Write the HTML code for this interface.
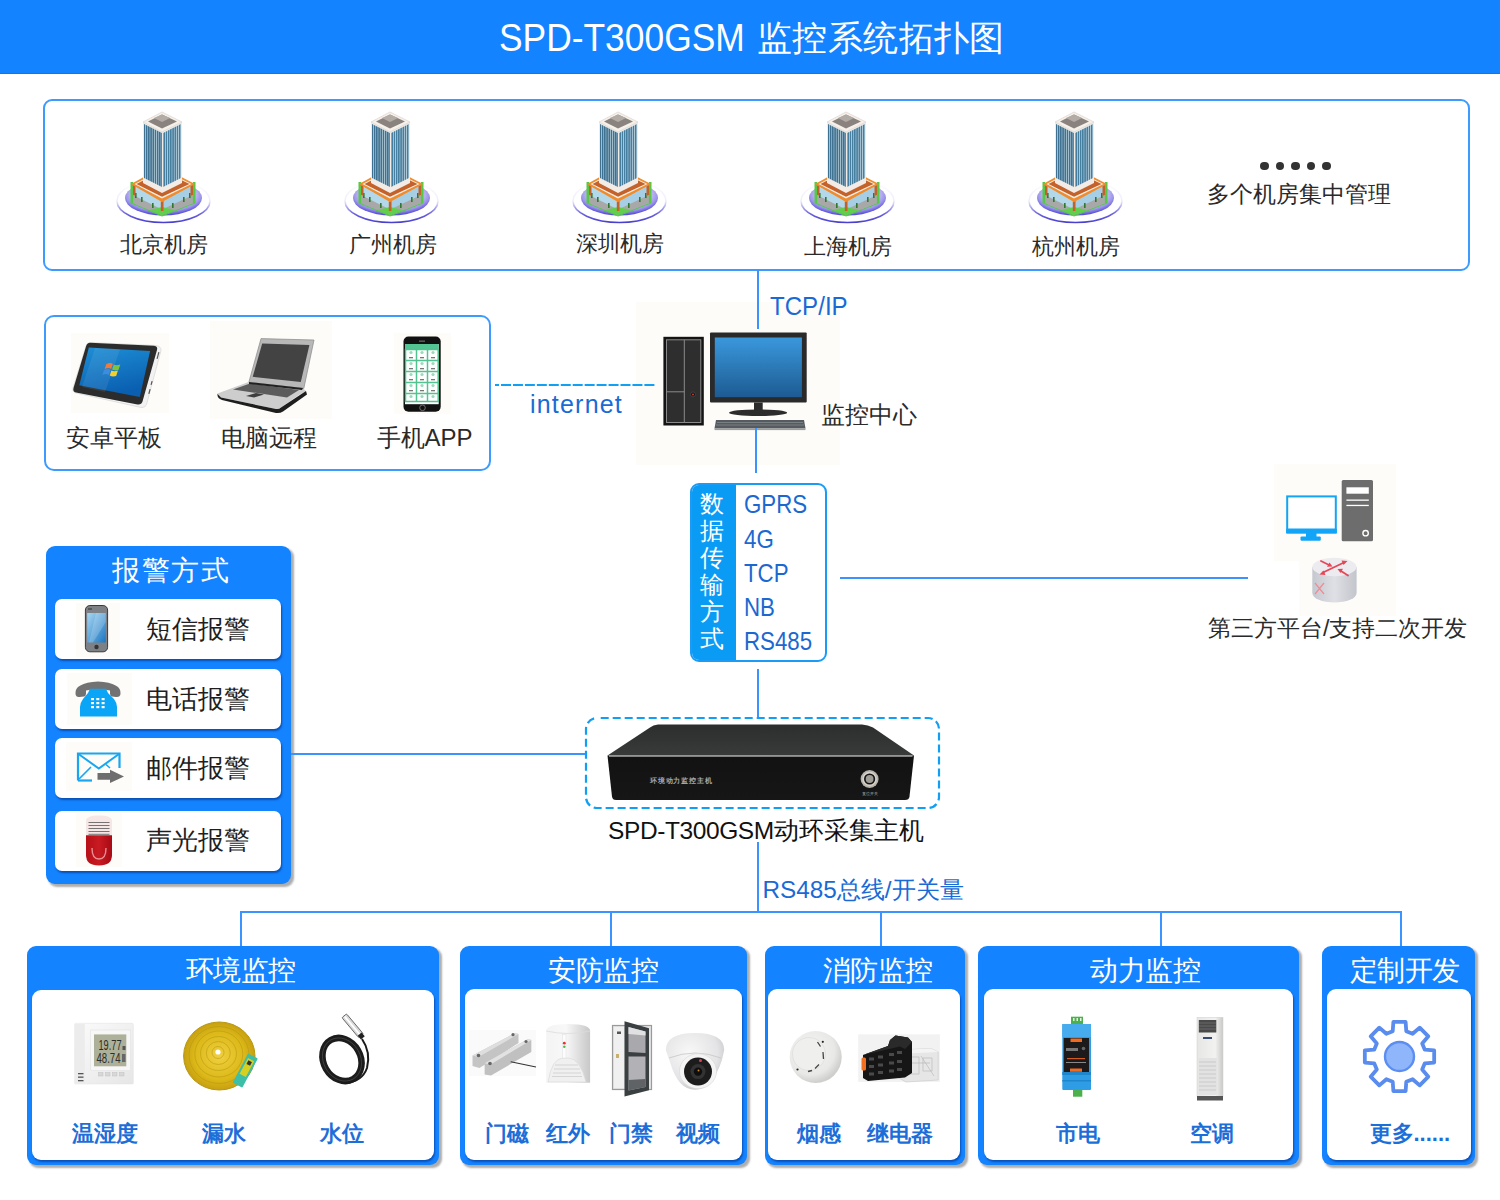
<!DOCTYPE html>
<html><head><meta charset="utf-8">
<style>
*{margin:0;padding:0;box-sizing:border-box}
html,body{width:1500px;height:1200px;overflow:hidden;background:#fff}
body{position:relative;font-family:"Liberation Sans",sans-serif;color:#2a2a2a}
.a{position:absolute}
.t{position:absolute;white-space:nowrap;line-height:1;z-index:3}
.hdr{left:0;top:0;width:1500px;height:74px;background:#1383ff;border-bottom:1px solid #0a78f5}
.box{position:absolute;border:2px solid #3d9bff;border-radius:9px;background:#fff}
.ln{position:absolute;background:#3a93ff;z-index:3}
.pnl{position:absolute;background:#1383ff;border-radius:9px;box-shadow:2.5px 2.5px 2px rgba(0,0,0,.32)}
.inr{position:absolute;background:#fff;border-radius:9px;box-shadow:1px 2px 2px rgba(0,40,130,.55)}
.ph{color:#fff;font-size:27.5px;letter-spacing:-.5px}
.lbl{color:#1c6ed8;font-size:22px;font-weight:bold}
.blue{color:#1a6ad6}
.item{position:absolute;left:9px;width:226px;height:60px;background:#fff;border-radius:7px;box-shadow:1px 2px 2px rgba(0,40,120,.55)}
.it{position:absolute;left:91px;font-size:26px;color:#1e1e1e;line-height:1}
.ibg{position:absolute;background:#fdfcf8}
</style></head><body>
<div class="a hdr"></div>
<div class="t" style="left:498.5px;top:17.7px;font-size:39px;color:#fff;transform:scaleX(.907);transform-origin:0 0">SPD-T300GSM</div>
<div class="t" style="left:757px;top:20.5px;font-size:35.4px;letter-spacing:.4px;color:#fff">监控系统拓扑图</div>

<svg width="0" height="0" style="position:absolute">
<defs>
<pattern id="stripL" width="2.2" height="10" patternUnits="userSpaceOnUse"><rect width="2.2" height="10" fill="#b3cbd8"/><rect x="0.7" width="1.5" height="10" fill="#3f7292"/></pattern>
<pattern id="stripR" width="2.2" height="10" patternUnits="userSpaceOnUse"><rect width="2.2" height="10" fill="#bcd3df"/><rect x="0.7" width="1.5" height="10" fill="#467e9f"/></pattern>
<radialGradient id="lil" cx="50%" cy="40%" r="58%"><stop offset="0" stop-color="#ffffff"/><stop offset=".6" stop-color="#dcdaf6"/><stop offset=".85" stop-color="#9c95ea"/><stop offset="1" stop-color="#5a50d8"/></radialGradient>
<linearGradient id="rim" x1="0" y1="0" x2="0" y2="1"><stop offset="0" stop-color="#5a50d8" stop-opacity="0"/><stop offset=".5" stop-color="#5a50d8" stop-opacity="0.1"/><stop offset=".8" stop-color="#5a50d8" stop-opacity=".9"/><stop offset="1" stop-color="#4a40d0"/></linearGradient>
<symbol id="bld" viewBox="0 0 105 120">
  <ellipse cx="53.5" cy="96" rx="46.5" ry="21.5" fill="#fff" stroke="url(#rim)" stroke-width="1.6"/>
  <ellipse cx="53.5" cy="93" rx="38.5" ry="17.5" fill="url(#lil)"/>
  <polygon points="21,77 52,94 85,77 85,97.5 52,110.5 21,97.5" fill="#a8a8a8"/>
  <polygon points="23,80 52,96 52,104.5 23,90" fill="#b2d8ea"/>
  <polygon points="52,96 83,80 83,90 52,104.5" fill="#a6cfe6"/>
  <polygon points="39,105 52,110.5 65,105 52,102" fill="#60d04c"/>
  <polygon points="21,97.5 52,110.5 52,111.5 21,98.5" fill="#56c845"/>
  <polygon points="85,97.5 52,110.5 52,111.5 85,98.5" fill="#56c845"/>
  <rect x="20.5" y="77" width="2.6" height="21" fill="#56c845"/>
  <rect x="82.9" y="77" width="2.6" height="21" fill="#56c845"/>
  <g fill="#2f7a2a"><rect x="25" y="88" width="1.6" height="5"/><rect x="31" y="92" width="1.6" height="5"/><rect x="42" y="98" width="1.6" height="5"/><rect x="62" y="98" width="1.6" height="5"/><rect x="73" y="92" width="1.6" height="5"/><rect x="79" y="88" width="1.6" height="5"/></g>
  <polygon points="50.8,96.5 53.5,96 53.5,106 50.8,106" fill="#c3612a"/>
  <polygon points="23,80 25.5,81 25.5,91 23,90" fill="#c3612a"/>
  <polygon points="80.5,81 83,80 83,90 80.5,91" fill="#c3612a"/>
  <polygon points="21,79 52,62 85,79 52,97" fill="#f08c2c"/>
  <polygon points="24.5,79 52,64.5 81.5,79 52,93.5" fill="#f4efe8"/>
  <polygon points="26.5,79 52,65.8 79.5,79 52,91.8" fill="#c4622c"/>
  <polygon points="33,78 52,88 72,78 72,17 52,27 33,17" fill="#f3ece6"/>
  <polygon points="34,19 52,28 52,82 34,73" fill="url(#stripL)"/>
  <polygon points="53,28 71,19 71,73 53,82" fill="url(#stripR)"/>
  <polygon points="33,17 52,7 72,17 52,27" fill="#f5f0ea" stroke="#d8cfc8" stroke-width=".6"/>
  <polygon points="38,16.5 52,9.5 67,16.5 52,23.5" fill="#8a827e"/>
  <polygon points="44,13 52,9.5 60,13 52,17" fill="#b3aba6"/>
</symbol>
</defs></svg>

<!-- top box -->
<div class="box" style="left:43px;top:99px;width:1427px;height:172px"></div>
<svg class="a" style="left:110px;top:105px" width="105" height="120"><use href="#bld"/></svg>
<svg class="a" style="left:338px;top:105px" width="105" height="120"><use href="#bld"/></svg>
<svg class="a" style="left:566px;top:105px" width="105" height="120"><use href="#bld"/></svg>
<svg class="a" style="left:794px;top:105px" width="105" height="120"><use href="#bld"/></svg>
<svg class="a" style="left:1022px;top:105px" width="105" height="120"><use href="#bld"/></svg>
<div class="t" style="left:120px;top:233.5px;font-size:22px">北京机房</div>
<div class="t" style="left:348.5px;top:233.5px;font-size:22px">广州机房</div>
<div class="t" style="left:575.5px;top:233px;font-size:22px">深圳机房</div>
<div class="t" style="left:804px;top:236px;font-size:22px">上海机房</div>
<div class="t" style="left:1032px;top:236px;font-size:22px">杭州机房</div>
<div class="a" style="left:1260.4px;top:161.8px;width:8.6px;height:8.6px;border-radius:50%;background:#333"></div><div class="a" style="left:1275.7px;top:161.8px;width:8.6px;height:8.6px;border-radius:50%;background:#333"></div><div class="a" style="left:1291.4px;top:161.8px;width:8.6px;height:8.6px;border-radius:50%;background:#333"></div><div class="a" style="left:1306.9px;top:161.8px;width:8.6px;height:8.6px;border-radius:50%;background:#333"></div><div class="a" style="left:1322.3px;top:161.8px;width:8.6px;height:8.6px;border-radius:50%;background:#333"></div>
<div class="t" style="left:1206.5px;top:182.5px;font-size:23px">多个机房集中管理</div>

<div class="ln" style="left:757px;top:270px;width:2px;height:59px"></div>
<div class="t blue" style="left:770px;top:293.5px;font-size:25.5px;transform:scaleX(.945);transform-origin:0 0">TCP/IP</div>

<!-- devices box -->
<div class="box" style="left:44px;top:315px;width:447px;height:156px;border-radius:10px"></div>
<div class="t" style="left:66px;top:426px;font-size:24px">安卓平板</div>
<div class="t" style="left:221px;top:426px;font-size:24px">电脑远程</div>
<div class="t" style="left:376.5px;top:426px;font-size:24px">手机APP</div>

<svg class="a" style="left:490px;top:380px;z-index:3" width="170" height="10"><line x1="5" y1="5" x2="165" y2="5" stroke="#12a0f2" stroke-width="2.2" stroke-dasharray="10 1.95" stroke-dashoffset="5.95"/></svg>
<div class="t blue" style="left:530px;top:392px;font-size:25px;letter-spacing:1.2px">internet</div>

<div class="t" style="left:821px;top:403px;font-size:24px">监控中心</div>
<div class="ln" style="left:755px;top:428px;width:2px;height:45px"></div>


<!-- device icons -->
<div class="ibg" style="left:71px;top:333px;width:98px;height:80px"></div>
<svg class="a" style="left:65px;top:325px" width="110" height="95" viewBox="65 325 110 95">
  <defs><linearGradient id="tabscr" x1="0" y1="0" x2="0.3" y2="1"><stop offset="0" stop-color="#1e8fd6"/><stop offset="1" stop-color="#0a5fb0"/></linearGradient></defs>
  <path d="M91,342.5 L156,345.5 Q161.5,346.5 161,350.5 L146.5,404.5 Q145.5,408 141,407.5 L76,393 Q72,392 73,388 L86,346 Q87,342.5 91,342.5 Z" fill="#f2f2f2" stroke="#d0d0d0" stroke-width=".6"/><g fill="#555"><rect x="157.5" y="352" width="1.2" height="7" transform="rotate(15 158 355)"/><rect x="151" y="381" width="1.2" height="4" transform="rotate(15 151.5 383)"/><rect x="149" y="389" width="1.2" height="5" transform="rotate(15 149.5 391)"/></g>
  <path d="M90,342.8 L154,345.8 Q158,346.3 157,350 L142.5,401.5 Q141.5,405 137.5,404.5 L76,392.6 Q72.5,391.8 73.5,388 L86,346.5 Q87,342.8 90,342.8 Z" fill="#2c2c2c"/>
  <polygon points="88.8,347.6 150.1,351.1 139.8,397 79.3,385.2" fill="url(#tabscr)"/>
  <polygon points="95,348 120,349.5 105,392 82,387" fill="#fff" opacity=".08"/>
  <g transform="translate(112.5,370) skewX(-8)">
    <path d="M-7,-6 Q-3,-8 -0.5,-6 L-1.5,-1 Q-4,-3 -8,-1 Z" fill="#f07a3c"/>
    <path d="M0.5,-5.5 Q3,-4 7,-5.5 L6,0 Q3,1 -0.5,-0.5 Z" fill="#7cc43c"/>
    <path d="M-8.5,0 Q-5,-2 -2,0 L-3,5 Q-6,3 -9.5,5 Z" fill="#3c8ce0"/>
    <path d="M-1,0.5 Q2,2 5.5,0.5 L4.5,6 Q1,7 -2,5.5 Z" fill="#f4d02c"/>
  </g>
</svg>
<div class="ibg" style="left:210px;top:321px;width:122px;height:98px"></div>
<svg class="a" style="left:205px;top:320px" width="130" height="100" viewBox="205 320 130 100">
  <polygon points="261,338.6 314,340 303.8,388.5 248.8,382.4" fill="#b8b8b8" stroke="#888" stroke-width=".7"/>
  <polygon points="262.2,343.4 309.4,345.1 300.8,382 252.7,376.8" fill="#434343"/>
  <path d="M248.5,382 L303,388.5 L306,391 L299,395 L281,407.5 Q279,409.5 276,409 L221,397.5 Q216,396 217.5,393.5 Z" fill="#cdcdcd"/>
  <path d="M217.5,394 L221,397.5 L276,409 Q279,409.5 281,407.5 L306,391 L307,394.5 L283,411.5 Q280,413.5 276,413 L222,400 Q217,398.5 217.5,394 Z" fill="#1e1e1e"/>
  <polygon points="233,389.5 250,383.5 299,390 287,397.5" fill="#5c5c5c"/>
  <polygon points="246,396 256,393 264,394.5 254,397.5" fill="#3e3e3e"/>
  <polygon points="249,382 303,388 302,390 249,384" fill="#222"/>
</svg>
<div class="ibg" style="left:394px;top:333px;width:57px;height:81px"></div>
<svg class="a" style="left:390px;top:325px" width="65" height="95" viewBox="390 325 65 95">
  <rect x="403.5" y="336.5" width="37.2" height="75.2" rx="5" fill="#111"/>
  <rect x="405" y="344" width="33.7" height="60.2" fill="#fff"/>
  <rect x="405" y="344" width="33.7" height="5" fill="#52c592"/>
  <g fill="none" stroke="#52c290" stroke-width="1.5">
    <rect x="405.5" y="349.5" width="32.7" height="52"/>
    <line x1="416.5" y1="349.5" x2="416.5" y2="401"/><line x1="427.5" y1="349.5" x2="427.5" y2="401"/>
    <line x1="405.5" y1="360.5" x2="438" y2="360.5"/><line x1="405.5" y1="371.5" x2="438" y2="371.5"/>
    <line x1="405.5" y1="382.5" x2="438" y2="382.5"/><line x1="405.5" y1="393.5" x2="438" y2="393.5"/>
  </g>
  <g fill="#9adbb9">
    <circle cx="411" cy="352.5" r="1.6"/><circle cx="422" cy="352.5" r="1.6"/><circle cx="433" cy="352.5" r="1.6"/>
    <circle cx="411" cy="363.5" r="1.6"/><circle cx="422" cy="363.5" r="1.6"/><circle cx="433" cy="363.5" r="1.6"/>
    <circle cx="411" cy="374.5" r="1.6"/><circle cx="422" cy="374.5" r="1.6"/><circle cx="433" cy="374.5" r="1.6"/>
    <circle cx="411" cy="385.5" r="1.6"/><circle cx="422" cy="385.5" r="1.6"/><circle cx="433" cy="385.5" r="1.6"/>
    <circle cx="411" cy="396.5" r="1.6"/><circle cx="422" cy="396.5" r="1.6"/><circle cx="433" cy="396.5" r="1.6"/>
  </g>
  <g fill="#777">
    <rect x="409" y="357" width="4" height="1.3"/><rect x="420" y="357" width="4" height="1.3"/><rect x="431" y="357" width="4" height="1.3"/>
    <rect x="409" y="368" width="4" height="1.3"/><rect x="420" y="368" width="4" height="1.3"/><rect x="431" y="368" width="4" height="1.3"/>
    <rect x="409" y="379" width="4" height="1.3"/><rect x="420" y="379" width="4" height="1.3"/><rect x="431" y="379" width="4" height="1.3"/>
    <rect x="409" y="390" width="4" height="1.3"/><rect x="420" y="390" width="4" height="1.3"/><rect x="431" y="390" width="4" height="1.3"/>
  </g>
  <rect x="419" y="340.5" width="6" height="1.3" fill="#666"/>
  <circle cx="422.5" cy="407.8" r="2.8" fill="none" stroke="#888" stroke-width=".8"/>
</svg>

<!-- computer -->
<div class="ibg" style="left:636px;top:302px;width:204px;height:163px"></div>
<svg class="a" style="left:630px;top:295px" width="220" height="175" viewBox="630 295 220 175">
  <defs><linearGradient id="mscr" x1="0" y1="0" x2="0" y2="1"><stop offset="0" stop-color="#3a98dc"/><stop offset="1" stop-color="#1d5b92"/></linearGradient></defs>
  <rect x="663.4" y="336.8" width="40.4" height="88.7" fill="#141414"/>
  <rect x="666.5" y="339.8" width="34.3" height="82.7" fill="#2e2e2e" stroke="#8a8a8a" stroke-width="1"/>
  <line x1="684.3" y1="339.8" x2="684.3" y2="422.5" stroke="#8a8a8a" stroke-width="1"/>
  <line x1="666.5" y1="391.8" x2="684.3" y2="391.8" stroke="#8a8a8a" stroke-width="1"/>
  <circle cx="693" cy="394.4" r="2.4" fill="#111" stroke="#555" stroke-width=".6"/><circle cx="693" cy="394.4" r="1" fill="#c8402a"/>
  <rect x="710" y="332.4" width="96.7" height="70.1" rx="1" fill="#2a2a2a"/>
  <rect x="714.8" y="337.5" width="87.1" height="59.7" fill="url(#mscr)"/>
  <rect x="754" y="402.5" width="8.7" height="8" fill="#2a2a2a"/>
  <ellipse cx="758.1" cy="412.7" rx="29" ry="3.3" fill="#2c2c2c"/>
  <polygon points="716,420 804,420 805.5,428.5 714.5,428.5" fill="#555b5e"/>
  <g stroke="#8a9092" stroke-width=".7"><line x1="717" y1="422.5" x2="803" y2="422.5"/><line x1="716" y1="425" x2="804" y2="425"/></g>
  <rect x="714.5" y="428.5" width="91" height="1.6" fill="#9aa0a2"/>
</svg>

<!-- third party -->
<div class="ibg" style="left:1274px;top:464px;width:122px;height:97px"></div>
<div class="ibg" style="left:1299px;top:561px;width:97px;height:55px"></div>
<svg class="a" style="left:1270px;top:460px" width="130" height="160" viewBox="1270 460 130 160">
  <defs><linearGradient id="rtr" x1="0" y1="0" x2="1" y2="0"><stop offset="0" stop-color="#c6c8cf"/><stop offset=".5" stop-color="#dfe0e5"/><stop offset="1" stop-color="#c3c5cc"/></linearGradient></defs>
  <rect x="1287.2" y="496.4" width="48.6" height="36" fill="#fff" stroke="#12a4f6" stroke-width="2"/>
  <rect x="1286.2" y="528.5" width="50.6" height="5.1" rx="1" fill="#12a4f6"/>
  <rect x="1306" y="533" width="10.5" height="4.5" fill="#12a4f6"/>
  <rect x="1300.5" y="536.4" width="20.3" height="4.3" rx="1.2" fill="#12a4f6"/>
  <rect x="1341.7" y="479.9" width="31.3" height="61.4" rx="1.5" fill="#6d6d6d"/>
  <rect x="1346.4" y="487.3" width="22.4" height="6.4" fill="#fff"/>
  <rect x="1346.4" y="499.5" width="22.4" height="1.3" fill="#fff"/>
  <rect x="1346.4" y="504.8" width="22.4" height="1.3" fill="#fff"/>
  <circle cx="1365.6" cy="533.2" r="2.7" fill="none" stroke="#fff" stroke-width="1.4"/>
  <path d="M1312.3,567 L1312.3,593 A22.15,9.5 0 0 0 1356.6,593 L1356.6,567 Z" fill="url(#rtr)"/>
  <ellipse cx="1334.45" cy="567" rx="22.15" ry="9.3" fill="#ececf0"/>
  <g stroke="#e64656" stroke-width="1.8" fill="#e64656" stroke-linecap="round">
    <line x1="1321" y1="561" x2="1329" y2="565"/><polygon points="1332.5,566.5 1327,566.8 1329.5,562.5" stroke="none"/>
    <line x1="1323" y1="572.5" x2="1344" y2="562.5"/><polygon points="1347.5,561 1341.5,560.5 1343.5,565" stroke="none"/><polygon points="1319.5,574.5 1325.5,575 1323.5,570.5" stroke="none"/>
    <line x1="1341" y1="571" x2="1348" y2="575.5"/><polygon points="1337.5,569 1343,568.8 1340.5,573" stroke="none"/>
  </g>
  <g stroke="#ee8c96" stroke-width="1.2" fill="none">
    <path d="M1315,583 L1324,594 M1324,583 L1315,594"/>
  </g>
</svg>

<!-- alarm icons -->
<div class="ibg" style="left:76px;top:603px;width:44px;z-index:4;height:54px"></div>
<svg class="a" style="left:76px;top:603px;z-index:5" width="44" height="54" viewBox="76 603 44 54">
  <defs><linearGradient id="phs" x1="0" y1="0" x2="1" y2="1"><stop offset="0" stop-color="#a7d6f2"/><stop offset="1" stop-color="#1b77c2"/></linearGradient></defs>
  <rect x="85.4" y="605.5" width="22.2" height="46.3" rx="4.5" fill="#7d8084" stroke="#3a3a3a" stroke-width="1"/>
  <rect x="87.2" y="613" width="18.6" height="29.5" fill="url(#phs)"/>
  <polygon points="96,613 105.8,613 105.8,622 93,642.5 89,642.5" fill="#fff" opacity=".18"/>
  <circle cx="96.5" cy="647" r="2.2" fill="#333"/>
  <circle cx="89" cy="609" r=".8" fill="#222"/><circle cx="91" cy="609" r=".8" fill="#222"/>
</svg>
<div class="ibg" style="left:67px;top:673px;width:65px;z-index:4;height:52px"></div>
<svg class="a" style="left:67px;top:673px;z-index:5" width="65" height="52" viewBox="67 673 65 52">
  <path d="M75.5,694 Q74,683 98,681.5 Q122,683 120.5,694 Q120,697.5 116,697 L112,696.5 Q110,696 110,693.5 L110,690.5 Q98,687.5 86,690.5 L86,693.5 Q86,696 84,696.5 L79.5,697 Q76,697.5 75.5,694 Z" fill="#727272"/>
  <path d="M88,693 L90,688.8 L106,688.8 L108,693 L114,699 Q117,703 117,707 L117,716.5 L80,716.5 L80,707 Q80,703 83,699 Z" fill="#0aa5f6"/>
  <g fill="#fff"><rect x="91" y="698" width="3" height="2.2"/><rect x="96.3" y="698" width="3" height="2.2"/><rect x="101.6" y="698" width="3" height="2.2"/>
  <rect x="91" y="702" width="3" height="2.2"/><rect x="96.3" y="702" width="3" height="2.2"/><rect x="101.6" y="702" width="3" height="2.2"/>
  <rect x="91" y="706" width="3" height="2.2"/><rect x="96.3" y="706" width="3" height="2.2"/><rect x="101.6" y="706" width="3" height="2.2"/></g>
</svg>
<div class="ibg" style="left:66px;top:742px;width:66px;z-index:4;height:49px"></div>
<svg class="a" style="left:66px;top:742px;z-index:5" width="66" height="49" viewBox="66 742 66 49">
  <path d="M78,775.5 L78,753.5 L119.5,753.5 L119.5,768" fill="none" stroke="#18a6f0" stroke-width="2.2"/>
  <path d="M78,780.5 L92,780.5" fill="none" stroke="#18a6f0" stroke-width="2.2"/>
  <path d="M78,780.5 L78,775" fill="none" stroke="#18a6f0" stroke-width="2.2"/>
  <path d="M78.5,754 L98.8,768.5 L119,754" fill="none" stroke="#18a6f0" stroke-width="2"/>
  <path d="M79,779 L91,767 M106,764.5 L110,768" fill="none" stroke="#18a6f0" stroke-width="1.6"/>
  <polygon points="97.5,773 110,773 110,769.8 124,776.5 110,783 110,779.7 97.5,779.7" fill="#6e6e6e"/>
</svg>
<div class="ibg" style="left:76px;top:813px;width:46px;z-index:4;height:54px"></div>
<svg class="a" style="left:76px;top:813px;z-index:5" width="46" height="54" viewBox="76 813 46 54">
  <defs><linearGradient id="sir" x1="0" y1="0" x2="1" y2="0"><stop offset="0" stop-color="#b80f18"/><stop offset=".5" stop-color="#c81a22"/><stop offset="1" stop-color="#a80a14"/></linearGradient></defs>
  <path d="M86,835.5 L86,821 Q86,815.5 99,815.5 Q112,815.5 112,821 L112,835.5 Z" fill="#f7e6e6"/>
  <g fill="#666"><rect x="88.5" y="822" width="21" height=".9"/><rect x="88.5" y="825" width="21" height=".9"/><rect x="88.5" y="828" width="21" height=".9"/><rect x="88.5" y="831" width="21" height=".9"/><rect x="88.5" y="833.8" width="21" height=".9"/></g>
  <path d="M86,835.3 L112,835.3 L112,855 Q112,865.5 99,865.5 Q86,865.5 86,855 Z" fill="url(#sir)"/>
  <path d="M92,848 Q92,859 99,859 Q106,859 106,848" fill="none" stroke="#f0b0b4" stroke-width="1.4" opacity=".8"/>
</svg>

<!-- host device -->
<svg class="a" style="left:600px;top:720px" width="320" height="85" viewBox="600 720 320 85">
  <defs>
    <linearGradient id="htop" x1="0" y1="0" x2="0" y2="1"><stop offset="0" stop-color="#2c2e2d"/><stop offset="1" stop-color="#393b3a"/></linearGradient>
    <linearGradient id="hfr" x1="0" y1="0" x2="0" y2="1"><stop offset="0" stop-color="#121212"/><stop offset="1" stop-color="#161616"/></linearGradient>
  </defs>
  <path d="M658,724.5 L862,724.5 Q868,724.8 873,727.5 L914,755.5 L607.5,755.5 L650,727.5 Q653,724.8 658,724.5 Z" fill="url(#htop)"/>
  <path d="M607.5,755.5 L914,755.5 L909.5,796.5 Q909,800 905,800 L616,800 Q612.5,800 612,796.5 Z" fill="url(#hfr)"/>
  <line x1="609" y1="756" x2="912.5" y2="756" stroke="#a8a8a8" stroke-width="1.3"/>
  <text x="650" y="782.5" font-size="7" fill="#a9a9a9" font-family="Liberation Sans, sans-serif" font-weight="bold" letter-spacing=".8">环境动力监控主机</text>
  <circle cx="869.6" cy="779" r="9" fill="#b8b4ac"/><circle cx="869.6" cy="779" r="7.2" fill="#d6d2ca"/>
  <circle cx="869.6" cy="779" r="5.6" fill="#151515"/><circle cx="869.6" cy="779" r="3.9" fill="#a09c96"/>
  <text x="862" y="794.5" font-size="3.6" fill="#aaa" font-family="Liberation Sans, sans-serif">复位开关</text>
</svg>

<!-- transmission box -->
<div class="a" style="left:690px;top:483px;width:137px;height:179px;border:2px solid #1a9bf5;border-radius:9px;overflow:hidden;background:#fff">
  <div class="a" style="left:0;top:0;width:44px;height:100%;background:#0a9bf5"></div>
</div>
<div class="t" style="left:700px;top:490px;font-size:24px;line-height:27.1px;color:#fff;white-space:normal;width:26px">数据传输方式</div>
<div class="t" style="left:743.5px;top:487.3px;font-size:25.6px;line-height:34.3px;color:#1a68d0;transform:scaleX(.87);transform-origin:0 0">GPRS<br>4G<br>TCP<br>NB<br>RS485</div>
<div class="ln" style="left:840px;top:577px;width:408px;height:2px"></div>
<div class="t" style="left:1208px;top:617px;font-size:23.2px">第三方平台/支持二次开发</div>

<!-- alarm panel -->
<div class="pnl" style="left:46px;top:546px;width:245px;height:338px">
  <div class="t ph" style="left:66px;top:11px;font-size:28px;letter-spacing:1.5px">报警方式</div>
  <div class="item" style="top:53px"><div class="it" style="top:17px">短信报警</div></div>
  <div class="item" style="top:123px"><div class="it" style="top:17px">电话报警</div></div>
  <div class="item" style="top:192px"><div class="it" style="top:17px">邮件报警</div></div>
  <div class="item" style="top:265px"><div class="it" style="top:16px">声光报警</div></div>
</div>
<div class="ln" style="left:291px;top:753px;width:294px;height:2px"></div>

<!-- host -->
<div class="ln" style="left:757px;top:669px;width:2px;height:49px"></div>
<svg class="a" style="left:580px;top:712px;z-index:3" width="366" height="102"><rect x="6" y="6" width="353" height="90" rx="11" fill="none" stroke="#0f9ff5" stroke-width="2.2" stroke-dasharray="8 4" stroke-dashoffset="8.3"/></svg>
<div class="t" style="left:608px;top:818.5px;font-size:24.5px;color:#111"><span style="letter-spacing:-.4px">SPD-T300GSM</span>动环采集主机</div>
<div class="ln" style="left:757px;top:842px;width:2px;height:70px"></div>
<div class="t blue" style="left:762.5px;top:878px;font-size:24.3px">RS485总线/开关量</div>

<!-- bus -->
<div class="ln" style="left:240px;top:911px;width:1162px;height:2px"></div>
<div class="ln" style="left:240px;top:911px;width:2px;height:35px"></div>
<div class="ln" style="left:610px;top:911px;width:2px;height:35px"></div>
<div class="ln" style="left:880px;top:911px;width:2px;height:35px"></div>
<div class="ln" style="left:1160px;top:911px;width:2px;height:35px"></div>
<div class="ln" style="left:1400px;top:911px;width:2px;height:35px"></div>

<!-- bottom panels -->
<div class="pnl" style="left:27px;top:946px;width:412px;height:219px">
  <div class="inr" style="left:5px;top:44px;width:402px;height:170px"></div>
  <div class="t ph" style="left:158.5px;top:11px">环境监控</div>
</div>
<div class="pnl" style="left:460px;top:946px;width:287px;height:219px">
  <div class="inr" style="left:5px;top:43px;width:277px;height:171px"></div>
  <div class="t ph" style="left:88px;top:11px">安防监控</div>
</div>
<div class="pnl" style="left:765px;top:946px;width:200px;height:219px">
  <div class="inr" style="left:3px;top:43px;width:192px;height:171px"></div>
  <div class="t ph" style="left:57.5px;top:11px">消防监控</div>
</div>
<div class="pnl" style="left:978px;top:946px;width:321px;height:219px">
  <div class="inr" style="left:6px;top:43px;width:309px;height:171px"></div>
  <div class="t ph" style="left:112px;top:11px">动力监控</div>
</div>
<div class="pnl" style="left:1322px;top:946px;width:153px;height:219px">
  <div class="inr" style="left:5px;top:43px;width:144px;height:171px"></div>
  <div class="t ph" style="left:27.5px;top:11px">定制开发</div>
</div>


<!-- bottom icons -->
<svg class="a" style="left:60px;top:1000px;z-index:2" width="1420" height="105" viewBox="60 1000 1420 105">
  <defs>
    <linearGradient id="tsf" x1="0" y1="0" x2="1" y2="1"><stop offset="0" stop-color="#fbfbfb"/><stop offset="1" stop-color="#e6e6e6"/></linearGradient>
    <radialGradient id="coil" cx="50%" cy="50%" r="50%"><stop offset="0" stop-color="#f0d040"/><stop offset=".7" stop-color="#dcb818"/><stop offset="1" stop-color="#c8a010"/></radialGradient>
    <radialGradient id="smk" cx="40%" cy="38%" r="62%"><stop offset="0" stop-color="#f6f6f4"/><stop offset=".75" stop-color="#e8e8e6"/><stop offset="1" stop-color="#cfcfcd"/></radialGradient>
    <linearGradient id="pir" x1="0" y1="0" x2="1" y2="0"><stop offset="0" stop-color="#f4f4f4"/><stop offset=".45" stop-color="#f8f8f8"/><stop offset="1" stop-color="#c8c8c8"/></linearGradient>
    <radialGradient id="dome" cx="40%" cy="35%" r="70%"><stop offset="0" stop-color="#f8f8f8"/><stop offset=".7" stop-color="#e4e4e6"/><stop offset="1" stop-color="#c4c4c8"/></radialGradient>
    <linearGradient id="acg" x1="0" y1="0" x2="1" y2="0"><stop offset="0" stop-color="#e6e6e4"/><stop offset=".7" stop-color="#f2f2f0"/><stop offset="1" stop-color="#c9c9c7"/></linearGradient>
  </defs>
  <!-- temp/humidity -->
  <rect x="74.7" y="1023.3" width="58.6" height="60.7" rx="1" fill="url(#tsf)" stroke="#e0e0e0" stroke-width=".5"/>
  <rect x="74.7" y="1024" width="10" height="60" fill="#ececec"/>
  <rect x="90.7" y="1030" width="40" height="40.7" fill="#f7f7f7" stroke="#e2e2e2" stroke-width=".6"/>
  <rect x="94" y="1034.4" width="32.3" height="31.9" fill="#aeb199"/>
  <text x="98.5" y="1050.2" font-family="Liberation Sans, sans-serif" font-size="14" fill="#2c2c2c" textLength="23" lengthAdjust="spacingAndGlyphs">19.77</text><rect x="122.5" y="1046" width="3" height="4" fill="#555"/>
  <text x="96.5" y="1062.8" font-family="Liberation Sans, sans-serif" font-size="14" fill="#2c2c2c" textLength="24" lengthAdjust="spacingAndGlyphs">48.74</text><rect x="122" y="1054" width="3.5" height="8" fill="#666"/>
  <g fill="#d8d8d8" stroke="#bbb" stroke-width=".4"><rect x="98.5" y="1072.5" width="4.5" height="3.5"/><rect x="105.5" y="1072.5" width="4.5" height="3.5"/><rect x="112.5" y="1072.5" width="4.5" height="3.5"/><rect x="119.5" y="1072.5" width="4.5" height="3.5"/></g>
  <g fill="#555"><rect x="78" y="1073" width="5.5" height="1.3"/><rect x="78" y="1076.5" width="5.5" height="1.3"/><rect x="78" y="1080" width="5.5" height="1.3"/></g>
  <!-- leak coil -->
  <ellipse cx="219.3" cy="1056" rx="35.7" ry="34" fill="url(#coil)" stroke="#b89810" stroke-width="1"/>
  <g fill="none" stroke="#b59a12" stroke-width=".7" opacity=".8">
    <ellipse cx="219" cy="1055" rx="30" ry="28.5"/><ellipse cx="218.8" cy="1054" rx="24" ry="23"/><ellipse cx="218.5" cy="1053.5" rx="18" ry="17"/><ellipse cx="218.3" cy="1053" rx="12" ry="11.5"/><ellipse cx="218" cy="1052.5" rx="6" ry="6"/>
  </g>
  <circle cx="218" cy="1052" r="2.6" fill="#fff"/>
  <g transform="rotate(28 245 1071)"><rect x="239.5" y="1054" width="11" height="33" rx="1" fill="#3cbfa6"/><rect x="241.5" y="1058" width="7" height="18" fill="#d8d020"/><rect x="243" y="1060" width="4" height="4" fill="#333"/></g>
  <!-- water level -->
  <g transform="rotate(-30 342 1059.5)"><ellipse cx="342" cy="1059.5" rx="18.5" ry="22.5" fill="none" stroke="#1c1c1c" stroke-width="6.5"/><ellipse cx="342" cy="1059.5" rx="18.5" ry="22.5" fill="none" stroke="#777" stroke-width=".5" opacity=".7"/></g>
  <path d="M362,1039 Q371,1052 367,1068 Q362,1082 345,1083" fill="none" stroke="#1a1a1a" stroke-width="2"/>
  <g transform="rotate(-40 354.5 1028)"><rect x="351.5" y="1012" width="6" height="26" rx="1.2" fill="#d8d8d8" stroke="#555" stroke-width=".8"/><rect x="353.5" y="1013" width="1.8" height="24" fill="#fff"/><rect x="352" y="1036" width="5" height="5" fill="#222"/></g>
  <!-- door magnet -->
  <rect x="469" y="1030" width="67" height="46" fill="#fafafa"/>
  <polygon points="472.5,1055.5 515,1033 518.5,1034 518.5,1043 479.5,1068 472.5,1066" fill="#c4c4c4"/>
  <polygon points="472.5,1055.5 515,1033 518.5,1034 478.5,1057" fill="#dedede"/>
  <polygon points="484.6,1063.2 528,1039 531.3,1040 531.3,1052 491,1075.5 484.6,1074.5" fill="#c0c0c0"/>
  <polygon points="484.6,1063.2 528,1039 531.3,1040 490.5,1064.5" fill="#e2e2e2"/>
  <circle cx="478.5" cy="1055.5" r="1.8" fill="#666"/><circle cx="513" cy="1034.7" r="1.6" fill="#666"/>
  <circle cx="490" cy="1063.5" r="1.8" fill="#666"/><circle cx="526" cy="1041.5" r="1.6" fill="#666"/>
  <path d="M510.7,1061.8 L536,1067" stroke="#333" stroke-width="1.1"/>
  <!-- PIR -->
  <path d="M546.2,1082.8 L546.2,1031 Q546.2,1024 568,1024 Q590.1,1024 590.1,1031 L590.1,1082.8 Z" fill="url(#pir)"/>
  <path d="M546.2,1031 Q568,1036 590.1,1031" fill="none" stroke="#dcdcdc" stroke-width=".8"/>
  <path d="M548,1082 Q552,1058 563,1058 L568,1058 Q580,1058 586,1082 Z" fill="#f0f0f0" stroke="#d6d6d6" stroke-width=".6"/>
  <g stroke="#c8c8c8" stroke-width=".7"><line x1="555" y1="1065" x2="578" y2="1065"/><line x1="554" y1="1069" x2="580" y2="1069"/><line x1="553" y1="1073" x2="581" y2="1073"/><line x1="552" y1="1076.5" x2="582" y2="1076.5"/></g>
  <rect x="562.5" y="1034.5" width="3.5" height="23.5" fill="#fcfcfc" stroke="#e0e0e0" stroke-width=".5"/>
  <circle cx="564.3" cy="1043.2" r="1.4" fill="#e83030"/><circle cx="564.3" cy="1046.8" r="1.3" fill="#4cc050"/>
  <!-- door access -->
  <rect x="612.5" y="1025.5" width="39" height="64" fill="#e4e4e4" stroke="#9a9a9a" stroke-width="1.2"/>
  <rect x="614" y="1027" width="10" height="61" fill="#f0f0f0"/>
  <rect x="617" y="1031.5" width="4" height="2.5" fill="#555"/>
  <rect x="616" y="1054" width="3" height="4" fill="#c8b070"/>
  <polygon points="624.5,1021.2 649,1028.2 649,1090.3 624.5,1096.4" fill="#3a3f42"/>
  <polygon points="628.5,1027 645.5,1031.5 645.5,1053 628.5,1052" fill="#a9a9ad"/>
  <polygon points="628.5,1027 645.5,1031.5 645.5,1035.5 628.5,1034" fill="#e0e0e2"/>
  <polygon points="628.5,1056.5 645.5,1056.5 645.5,1087 628.5,1090.5" fill="#b2b2b6"/>
  <polygon points="628.5,1080 645.5,1079 645.5,1087 628.5,1090.5" fill="#5f6366"/>
  <!-- camera -->
  <path d="M665.8,1050 Q666,1033 695,1032.9 Q724.2,1033 724.2,1050 L722,1060 Q712,1089.8 695,1089.8 Q678,1089.8 670,1062 Z" fill="url(#dome)"/>
  <path d="M669,1058 Q695,1048 721,1058" fill="none" stroke="#c6c6c8" stroke-width=".8"/>
  <ellipse cx="698" cy="1071.2" rx="18.5" ry="17.5" fill="#f4f4f4" stroke="#d6d6d6" stroke-width=".6"/>
  <circle cx="698" cy="1071.6" r="14" fill="#1c1c1c"/>
  <circle cx="698" cy="1071.6" r="7.5" fill="#333"/>
  <circle cx="698" cy="1071.6" r="4.2" fill="#0e0e0e"/>
  <circle cx="698.5" cy="1070.5" r="1" fill="#c8822a"/>
  <circle cx="700.5" cy="1060.5" r="1.5" fill="#e04050"/>
  <!-- smoke -->
  <circle cx="815.7" cy="1057" r="26" fill="url(#smk)"/>
  <circle cx="809" cy="1054" r="16.5" fill="#efefed" stroke="#dcdcda" stroke-width=".7"/>
  <circle cx="822.8" cy="1041.8" r="1.1" fill="#222"/><circle cx="797.5" cy="1069.5" r="1.1" fill="#222"/>
  <g stroke="#444" stroke-width="1.3"><line x1="817.5" y1="1042" x2="820.5" y2="1046.5"/><line x1="823" y1="1052" x2="823.5" y2="1059"/><line x1="819" y1="1064.5" x2="815" y2="1068.5"/><line x1="808" y1="1071.5" x2="812" y2="1070.5"/></g>
  <!-- relay -->
  <rect x="858.2" y="1034.3" width="81.7" height="47.6" fill="#f2f2f2"/>
  <polygon points="899,1050 931,1048.5 938.2,1052 938.2,1080 906,1082 899,1078" fill="#e6e6e6" stroke="#c8c8c8" stroke-width=".6"/>
  <polygon points="899,1050 931,1048.5 938.2,1052 906,1053.5" fill="#f4f4f4"/>
  <g stroke="#b4b4b4" stroke-width=".6" fill="none"><rect x="909" y="1057" width="10" height="17"/><line x1="921" y1="1056" x2="934" y2="1076"/><rect x="923" y="1058" width="9" height="13"/><line x1="912" y1="1063" x2="930" y2="1063"/></g>
  <polygon points="863,1055 888,1046 890,1040 895.5,1035.5 908,1037.5 912,1042 912,1073 905,1077.5 868,1081 863,1078" fill="#161616"/>
  <polygon points="863,1055 888,1046 890,1040 895.5,1035.5 908,1037.5 912,1042 905,1049 900,1046.5" fill="#2a2a2a"/>
  <g fill="#4a4a4a"><rect x="869" y="1057.5" width="5" height="3"/><rect x="878" y="1055.5" width="5" height="3"/><rect x="889" y="1053" width="5" height="3"/><rect x="897" y="1051" width="5" height="3"/>
  <rect x="869" y="1065" width="5" height="3"/><rect x="878" y="1063.5" width="5" height="3"/><rect x="889" y="1061.5" width="5" height="3"/><rect x="897" y="1060" width="5" height="3"/>
  <rect x="869" y="1072.5" width="5" height="3"/><rect x="878" y="1071" width="5" height="3"/><rect x="889" y="1069.5" width="5" height="3"/><rect x="897" y="1068" width="5" height="3"/></g>
  <rect x="861.5" y="1057.5" width="4.5" height="13" rx="1.5" fill="#f07020"/>
  <!-- power module -->
  <rect x="1071" y="1016.7" width="12" height="7.5" fill="#4cb04c"/>
  <g fill="#e8f4e8"><rect x="1073" y="1018" width="1.5" height="3"/><rect x="1076.5" y="1018" width="1.5" height="3"/><rect x="1080" y="1018" width="1.5" height="3"/></g>
  <rect x="1073" y="1089.5" width="9.3" height="7.2" fill="#4cb04c"/>
  <rect x="1062.3" y="1024" width="28.7" height="66" rx="1" fill="#2e9de6"/>
  <rect x="1062.3" y="1024" width="28.7" height="13" fill="#46acee"/>
  <rect x="1063.7" y="1038" width="25.3" height="34" fill="#1c1a1a"/>
  <rect x="1070.5" y="1038.5" width="11.5" height="3.5" fill="#f06a20"/>
  <rect x="1070" y="1068.5" width="12" height="3.3" fill="#f06a20"/>
  <rect x="1067" y="1058" width="18" height="1.2" fill="#d05a20"/>
  <rect x="1066" y="1062" width="20" height="1" fill="#888"/>
  <rect x="1066" y="1048" width="12" height="3" fill="#777"/>
  <circle cx="1083.5" cy="1048.5" r="1.8" fill="#666"/>
  <rect x="1062.3" y="1072" width="28.7" height="3" fill="#1f86cc"/>
  <rect x="1062.3" y="1080" width="28.7" height="1.5" fill="#1f86cc"/>
  <!-- AC -->
  <rect x="1197" y="1017.3" width="26" height="79" fill="url(#acg)" stroke="#d0d0d0" stroke-width=".5"/>
  <rect x="1198.8" y="1020" width="17.5" height="12.5" fill="#4a4a4a"/>
  <g stroke="#8a8a8a" stroke-width=".5"><line x1="1199" y1="1023" x2="1216" y2="1023"/><line x1="1199" y1="1026" x2="1216" y2="1026"/><line x1="1199" y1="1029" x2="1216" y2="1029"/></g>
  <rect x="1203" y="1037" width="9" height="2" fill="#3a4a70"/>
  <rect x="1198.8" y="1058" width="18" height="37" fill="#e2e2e2"/>
  <g stroke="#bcbcbc" stroke-width=".6"><line x1="1199" y1="1062" x2="1216" y2="1062"/><line x1="1199" y1="1066" x2="1216" y2="1066"/><line x1="1199" y1="1070" x2="1216" y2="1070"/><line x1="1199" y1="1074" x2="1216" y2="1074"/><line x1="1199" y1="1078" x2="1216" y2="1078"/><line x1="1199" y1="1082" x2="1216" y2="1082"/><line x1="1199" y1="1086" x2="1216" y2="1086"/><line x1="1199" y1="1090" x2="1216" y2="1090"/></g>
  <rect x="1197" y="1096" width="26" height="4.5" fill="#555"/>
  <!-- gear -->
  <g transform="translate(1399.5 1056.5)">
    <path d="M-6.78,-25.31 L-6.11,-34.67 L6.11,-34.67 L6.78,-25.31 L13.10,-22.69 L20.19,-28.83 L28.83,-20.19 L22.69,-13.10 L25.31,-6.78 L34.67,-6.11 L34.67,6.11 L25.31,6.78 L22.69,13.10 L28.83,20.19 L20.19,28.83 L13.10,22.69 L6.78,25.31 L6.11,34.67 L-6.11,34.67 L-6.78,25.31 L-13.10,22.69 L-20.19,28.83 L-28.83,20.19 L-22.69,13.10 L-25.31,6.78 L-34.67,6.11 L-34.67,-6.11 L-25.31,-6.78 L-22.69,-13.10 L-28.83,-20.19 L-20.19,-28.83 L-13.10,-22.69 Z" fill="#fff" stroke="#5a8cee" stroke-width="3.8" stroke-linejoin="round"/>
    <circle r="14.5" fill="#8fb5fb" stroke="#5b8ef0" stroke-width="2.4"/>
  </g>
</svg>

<div class="t lbl" style="left:71.5px;top:1122.5px">温湿度</div>
<div class="t lbl" style="left:201.5px;top:1122.5px">漏水</div>
<div class="t lbl" style="left:319.5px;top:1122.5px">水位</div>
<div class="t lbl" style="left:484.5px;top:1122.5px">门磁</div>
<div class="t lbl" style="left:545.5px;top:1122.5px">红外</div>
<div class="t lbl" style="left:608.5px;top:1122.5px">门禁</div>
<div class="t lbl" style="left:675.5px;top:1122.5px">视频</div>
<div class="t lbl" style="left:796.5px;top:1122.5px">烟感</div>
<div class="t lbl" style="left:866.5px;top:1122.5px">继电器</div>
<div class="t lbl" style="left:1055.5px;top:1122.5px">市电</div>
<div class="t lbl" style="left:1189.5px;top:1122.5px">空调</div>
<div class="t lbl" style="left:1369.5px;top:1122.5px">更多......</div>

</body></html>
